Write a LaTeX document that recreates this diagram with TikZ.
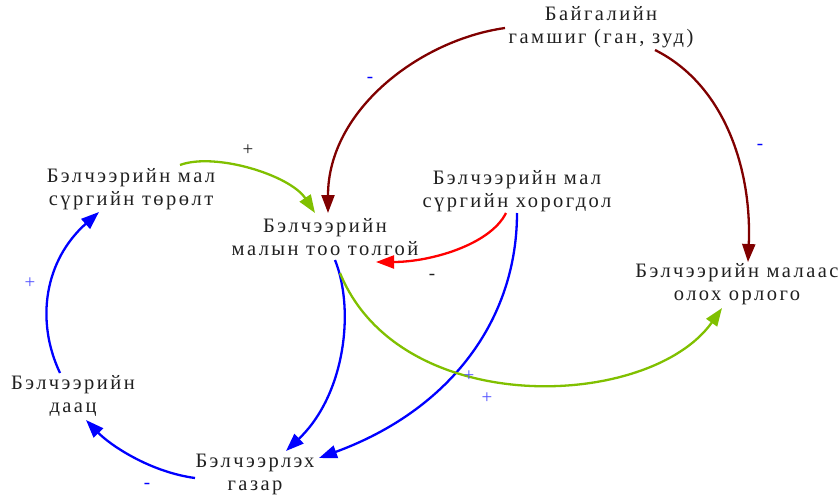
\documentclass[tikz,border=0pt]{standalone}
\usepackage{fontspec}
\setmainfont[LetterSpace=12]{Liberation Serif}
\usetikzlibrary{arrows.meta}
\definecolor{dred}{HTML}{800000}
\definecolor{lgreen}{HTML}{80C000}
\definecolor{pblue}{HTML}{0000FF}
\definecolor{lblue}{HTML}{5050FF}
\definecolor{txt}{HTML}{202020}
\tikzset{
  var/.style={align=center, text=txt, font=\fontsize{20.5}{23}\selectfont, inner sep=0pt},
  link/.style={line width=2.3pt, -{Triangle[length=18pt,width=13pt]}},
  sgn/.style={font=\fontsize{19}{19}\selectfont, inner sep=0pt},
}
\begin{document}
\begin{tikzpicture}[x=1pt,y=-1pt]
\useasboundingbox (0,0) rectangle (840,498);
\node[var] (gam) at (601,27) {Байгалийн\\гамшиг (ган, зуд)};
\node[var] (tor) at (131,189) {Бэлчээрийн мал\\сүргийн төрөлт};
\node[var] (too) at (325,237) {Бэлчээрийн\\малын тоо толгой};
\node[var] (hor) at (517,191) {Бэлчээрийн мал\\сүргийн хорогдол};
\node[var] (orl) at (737,284) {Бэлчээрийн малаас\\олох орлого};
\node[var] (daa) at (73,396) {Бэлчээрийн\\даац};
\node[var] (gaz) at (255,474) {Бэлчээрлэх\\газар};

\coordinate (torE) at (180,165);
\coordinate (tooN1) at (315,213);
\coordinate (gamW) at (505,28);
\coordinate (tooN2) at (328,213);
\coordinate (gamE) at (655,50);
\coordinate (orlN) at (748,262);
\coordinate (horS1) at (506,213);
\coordinate (tooE) at (376,262);
\coordinate (horS2) at (517,213);
\coordinate (gazE) at (319,458);
\coordinate (tooS1) at (335,260);
\coordinate (gazN) at (286,451);
\coordinate (tooS2) at (340,273);
\coordinate (orlS) at (722,308);
\coordinate (gazW) at (195,478);
\coordinate (daaS) at (86,420);
\coordinate (daaN) at (60,373);
\coordinate (torS) at (99,212);

\draw[link, lgreen] (torE) .. controls (215,152) and (290,175) .. (tooN1);
\draw[link, dred] (gamW) .. controls (420,40) and (328,110) .. (tooN2);
\draw[link, dred] (gamE) .. controls (725,85) and (752,170) .. (orlN);
\draw[link, red] (horS1) .. controls (490,245) and (430,262) .. (tooE);
\draw[link, pblue] (horS2) .. controls (517,320) and (450,410) .. (gazE);
\draw[link, pblue] (tooS1) .. controls (355,310) and (345,395) .. (gazN);
\draw[link, lgreen] (tooS2) .. controls (400,420) and (650,410) .. (orlS);
\draw[link, pblue] (gazW) .. controls (150,472) and (110,445) .. (daaS);
\draw[link, pblue] (daaN) .. controls (35,320) and (45,260) .. (torS);

\node[sgn, txt] (s1) at (248,150) {+};
\node[sgn, pblue] (s2) at (370,80) {-};
\node[sgn, pblue] (s3) at (760,147) {-};
\node[sgn, txt] (s4) at (432,277) {-};
\node[sgn, lblue] (s5) at (469,376) {+};
\node[sgn, lblue] (s6) at (487,398) {+};
\node[sgn, pblue] (s7) at (147,486) {-};
\node[sgn, lblue] (s8) at (30,283) {+};
\end{tikzpicture}
\end{document}
